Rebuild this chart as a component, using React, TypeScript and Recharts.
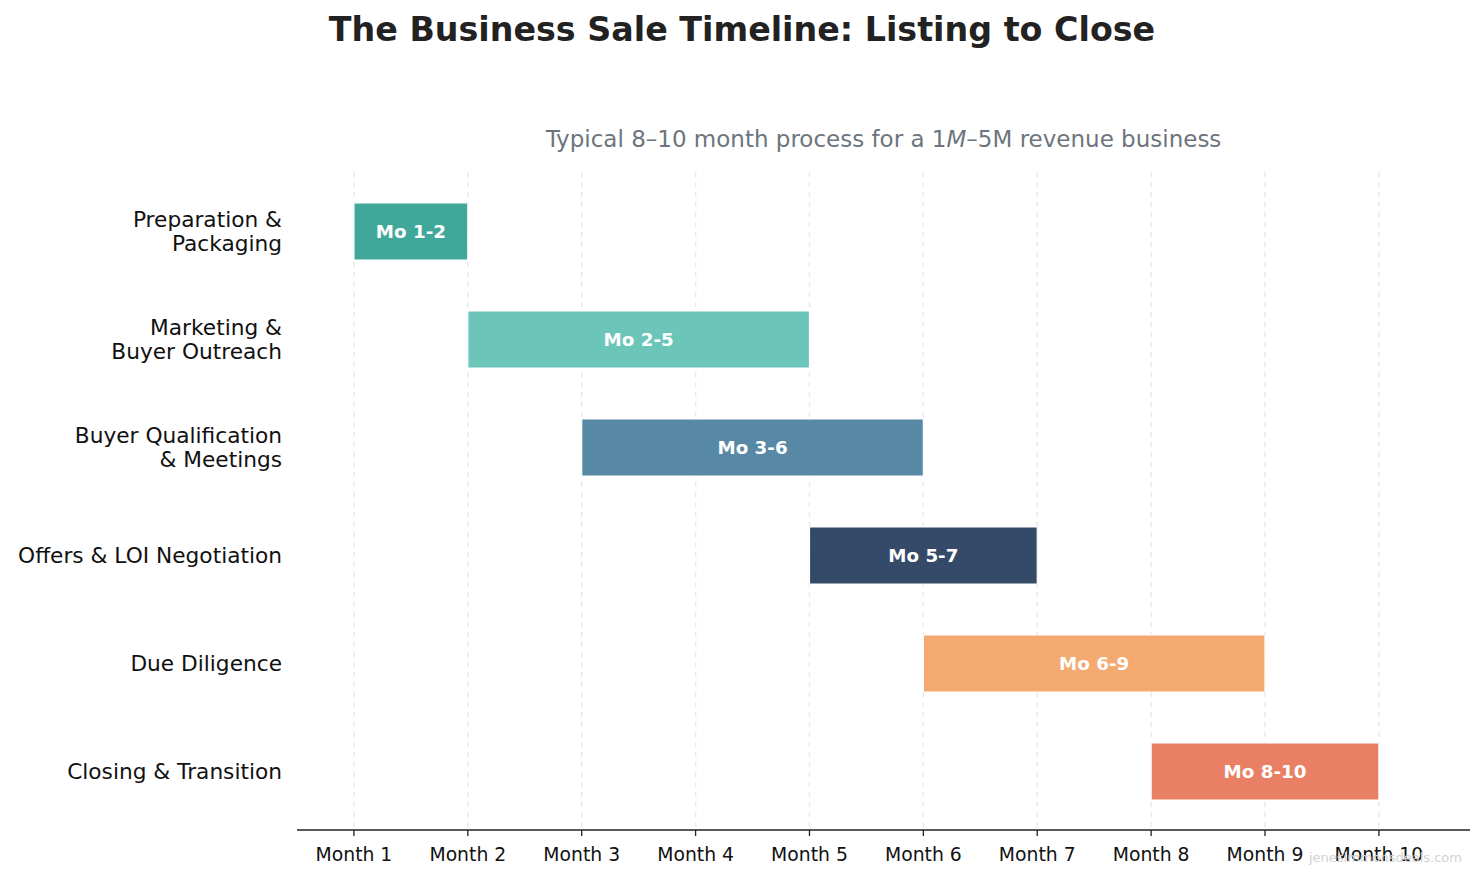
import { Bar, BarChart, CartesianGrid, Cell, LabelList, XAxis, YAxis } from "recharts";

const phases = [
  "Preparation &\nPackaging",
  "Marketing &\nBuyer Outreach",
  "Buyer Qualification\n& Meetings",
  "Offers & LOI Negotiation",
  "Due Diligence",
  "Closing & Transition",
];
const startMonths = [1, 2, 3, 5, 6, 8];
const endMonths = [2, 5, 6, 7, 9, 10];
const spanLabels = ["Mo 1-2", "Mo 2-5", "Mo 3-6", "Mo 5-7", "Mo 6-9", "Mo 8-10"];
const phaseColors = ["#3fa89a", "#6bc5b9", "#5789a6", "#344a68", "#f4a971", "#e98065"];
const monthTicks = [1, 2, 3, 4, 5, 6, 7, 8, 9, 10];

const data = phases.map((phase, i) => ({
  phase,
  span: [startMonths[i], endMonths[i]],
  label: spanLabels[i],
  color: phaseColors[i],
}));

const FONT = "'DejaVu Sans', sans-serif";

function PhaseTick({ x, y, payload }: any) {
  const lines = String(payload.value).split("\n");
  const lineH = 24;
  const top = y - ((lines.length - 1) * lineH) / 2;
  return (
    <text x={x} y={top} textAnchor="end" fontSize={21.7} fontFamily={FONT} fill="#111">
      {lines.map((l, i) => (
        <tspan key={i} x={x} y={top + i * lineH} dy="0.35em">
          {l}
        </tspan>
      ))}
    </text>
  );
}

export default function App() {
  return (
    <div
      style={{
        position: "absolute",
        left: 0,
        top: 0,
        width: 1484,
        height: 880,
        background: "#fff",
        fontFamily: FONT,
      }}
    >
      <div
        style={{
          position: "absolute",
          left: 0,
          width: 1484,
          top: 10,
          textAlign: "center",
          fontSize: 33.3,
          fontWeight: "bold",
          color: "#222",
        }}
      >
        The Business Sale Timeline: Listing to Close
      </div>
      <div
        style={{
          position: "absolute",
          left: 297,
          width: 1173,
          top: 126,
          textAlign: "center",
          fontSize: 23,
          color: "#6c757d",
        }}
      >
        Typical 8–10 month process for a 1<i>M</i>–5M revenue business
      </div>
      <BarChart
        width={1484}
        height={880}
        data={data}
        layout="vertical"
        margin={{ top: 172, right: 14, bottom: 0, left: 0 }}
        barSize={57}
      >
        <CartesianGrid
          horizontal={false}
          syncWithTicks
          stroke="#e8e8e8"
          strokeDasharray="5 5"
          strokeWidth={1.4}
        />
        <XAxis
          type="number"
          domain={[0.5, 10.8]}
          ticks={monthTicks}
          allowDataOverflow
          height={50}
          tickFormatter={(v: number) => `Month ${v}`}
          axisLine={{ stroke: "#222", strokeWidth: 1.6 }}
          tickLine={{ stroke: "#222", strokeWidth: 1.3 }}
          tickSize={6}
          tickMargin={12}
          tick={{ fontSize: 18.8, fontFamily: FONT, fill: "#111" }}
        />
        <YAxis
          type="category"
          dataKey="phase"
          width={297}
          axisLine={false}
          tickLine={false}
          tickSize={6}
          tickMargin={9}
          padding={{ top: 5, bottom: 5 }}
          interval={0}
          tick={<PhaseTick />}
        />
        <Bar dataKey="span" isAnimationActive={false} stroke="#fff" strokeWidth={1.2}>
          {data.map((d, i) => (
            <Cell key={i} fill={d.color} />
          ))}
          <LabelList
            dataKey="label"
            position="center"
            fill="#fff"
            fontSize={18.3}
            fontWeight="bold"
            fontFamily={FONT}
          />
        </Bar>
      </BarChart>
      <div
        style={{
          position: "absolute",
          right: 22,
          top: 850,
          fontSize: 13,
          color: "#d2d2d2",
          fontFamily: FONT,
        }}
      >
        jenesimmonsdeals.com
      </div>
    </div>
  );
}
